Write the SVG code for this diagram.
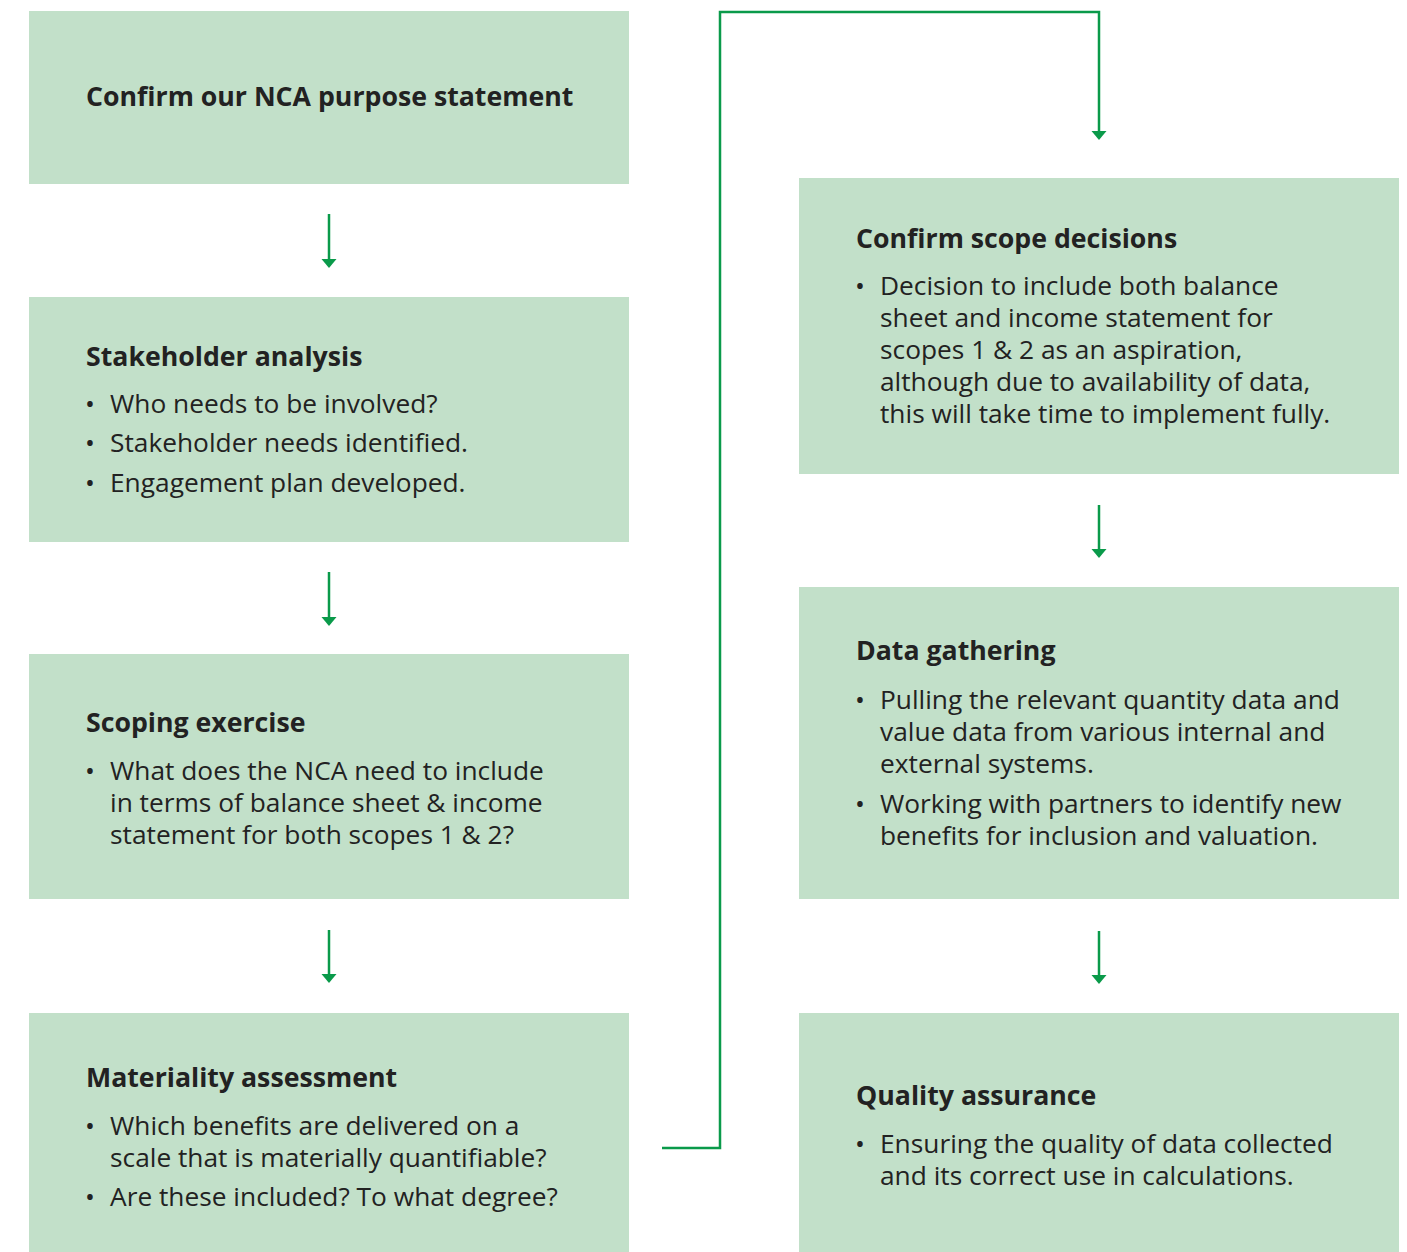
<svg xmlns="http://www.w3.org/2000/svg" width="1407" height="1252" viewBox="0 0 1407 1252">
<style>
.box{fill:#c2e0c9}
.t{font-family:"Open Sans","Liberation Sans",sans-serif;font-weight:700;font-size:26.7px;fill:#222}
.b{font-family:"Open Sans","Liberation Sans",sans-serif;font-size:26.3px;fill:#222}
.c{fill:none;stroke:#0a9a4a;stroke-width:2.5}
</style>
<defs>
<marker id="ah" markerUnits="userSpaceOnUse" markerWidth="9" markerHeight="16" refX="2" refY="8" orient="auto" viewBox="0 0 9 16">
<path d="M0,0.5 L9,8 L0,15.5 Z" fill="#0a9a4a"/>
</marker>
</defs>
<rect width="1407" height="1252" fill="#fff"/>
<g id="n1"><rect class="box" x="29" y="11" width="600" height="173"/>
<text class="t" x="86" y="106">Confirm our NCA purpose statement</text></g>
<g id="n2"><rect class="box" x="29" y="297" width="600" height="245"/>
<text class="t" x="86" y="366">Stakeholder analysis</text>
<text class="b" x="85" y="413">•</text><text class="b" x="110" y="413">Who needs to be involved?</text>
<text class="b" x="85" y="452">•</text><text class="b" x="110" y="452">Stakeholder needs identified.</text>
<text class="b" x="85" y="492">•</text><text class="b" x="110" y="492">Engagement plan developed.</text></g>
<g id="n3"><rect class="box" x="29" y="654" width="600" height="245"/>
<text class="t" x="86" y="732">Scoping exercise</text>
<text class="b" x="85" y="780">•</text>
<text class="b" x="110" y="780">What does the NCA need to include<tspan x="110" dy="32">in terms of balance sheet &amp; income</tspan><tspan x="110" dy="32">statement for both scopes 1 &amp; 2?</tspan></text></g>
<g id="n4"><rect class="box" x="29" y="1013" width="600" height="239"/>
<text class="t" x="86" y="1087">Materiality assessment</text>
<text class="b" x="85" y="1135">•</text>
<text class="b" x="110" y="1135">Which benefits are delivered on a<tspan x="110" dy="32">scale that is materially quantifiable?</tspan></text>
<text class="b" x="85" y="1206">•</text><text class="b" x="110" y="1206">Are these included? To what degree?</text></g>
<g id="n5"><rect class="box" x="799" y="178" width="600" height="296"/>
<text class="t" x="856" y="248">Confirm scope decisions</text>
<text class="b" x="855" y="295">•</text>
<text class="b" x="880" y="295">Decision to include both balance<tspan x="880" dy="32">sheet and income statement for</tspan><tspan x="880" dy="32">scopes 1 &amp; 2 as an aspiration,</tspan><tspan x="880" dy="32">although due to availability of data,</tspan><tspan x="880" dy="32">this will take time to implement fully.</tspan></text></g>
<g id="n6"><rect class="box" x="799" y="587" width="600" height="312"/>
<text class="t" x="856" y="660">Data gathering</text>
<text class="b" x="855" y="709">•</text>
<text class="b" x="880" y="709">Pulling the relevant quantity data and<tspan x="880" dy="32">value data from various internal and</tspan><tspan x="880" dy="32">external systems.</tspan></text>
<text class="b" x="855" y="813">•</text>
<text class="b" x="880" y="813">Working with partners to identify new<tspan x="880" dy="32">benefits for inclusion and valuation.</tspan></text></g>
<g id="n7"><rect class="box" x="799" y="1013" width="600" height="239"/>
<text class="t" x="856" y="1105">Quality assurance</text>
<text class="b" x="855" y="1153">•</text>
<text class="b" x="880" y="1153">Ensuring the quality of data collected<tspan x="880" dy="32">and its correct use in calculations.</tspan></text></g>
<g id="connectors">
<path class="c" d="M329,214 V261" marker-end="url(#ah)"/>
<path class="c" d="M329,572 V619" marker-end="url(#ah)"/>
<path class="c" d="M329,930 V976" marker-end="url(#ah)"/>
<path class="c" d="M662,1148 H720 V12 H1099 V133" marker-end="url(#ah)"/>
<path class="c" d="M1099,505 V551" marker-end="url(#ah)"/>
<path class="c" d="M1099,931 V977" marker-end="url(#ah)"/>
</g>
</svg>
